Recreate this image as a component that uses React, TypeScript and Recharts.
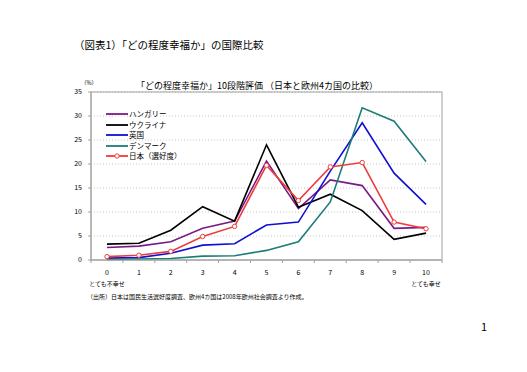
import * as R from "recharts"
import { CartesianGrid, Legend, Line, LineChart, XAxis, YAxis } from "recharts"

const categories = ["0", "1", "2", "3", "4", "5", "6", "7", "8", "9", "10"]
const hungary = [2.6, 2.9, 3.8, 6.6, 8.1, 20.6, 10.7, 16.7, 15.5, 6.6, 6.8]
const ukraine = [3.3, 3.5, 6.2, 11.1, 8.1, 24.0, 11.0, 13.7, 10.3, 4.3, 5.6]
const uk = [0.4, 0.5, 1.4, 3.1, 3.4, 7.3, 7.9, 18.5, 28.6, 18.1, 11.6]
const denmark = [0.1, 0.2, 0.3, 0.8, 0.9, 2.0, 3.8, 12.1, 31.7, 28.9, 20.5]
const japan = [0.7, 1.0, 1.8, 4.9, 7.0, 19.7, 12.4, 19.4, 20.3, 7.9, 6.5]
const yTicks = [0, 5, 10, 15, 20, 25, 30, 35]
const endLabels: Record<string, string> = { "0": "とても不幸せ", "10": "とても幸せ" }
const legendOrder = ["hungary", "ukraine", "uk", "denmark", "japan"]

const data = categories.map((c, i) => ({
  name: c,
  hungary: hungary[i],
  ukraine: ukraine[i],
  uk: uk[i],
  denmark: denmark[i],
  japan: japan[i],
}))

const font = "'Noto Sans CJK JP', 'Noto Sans', sans-serif"
const frame = "#a0a0a0"

const usePlotBox: () => any = (R as any).usePlotArea ?? (R as any).useOffset ?? (() => null)

function PlotFrame() {
  const box = usePlotBox()
  if (!box) return null
  const x = box.x ?? box.left
  const y = box.y ?? box.top
  return <rect x={x} y={y} width={box.width} height={box.height} fill="none" stroke={frame} strokeWidth={1} />
}

function XTick(props: any) {
  const { x, y, payload, index } = props
  const label = endLabels[payload.value]
  return (
    <g>
      <line x1={x - 16} y1={y} x2={x - 16} y2={y + 3} stroke={frame} />
      {index === categories.length - 1 && <line x1={x + 16} y1={y} x2={x + 16} y2={y + 3} stroke={frame} />}
      <text x={x} y={y + 15} textAnchor="middle" fontSize={7} fill="#000">
        {payload.value}
      </text>
      {label && (
        <text x={x} y={y + 26} textAnchor="middle" fontSize={6} fill="#000">
          {label}
        </text>
      )}
    </g>
  )
}

function LegendBox(props: any) {
  const items = [...props.payload].sort(
    (a: any, b: any) => legendOrder.indexOf(a.dataKey) - legendOrder.indexOf(b.dataKey)
  )
  return (
    <div style={{ fontFamily: font, fontSize: 7.5, lineHeight: "10px" }}>
      {items.map((p: any) => (
        <div key={p.value} style={{ display: "flex", alignItems: "center", height: 10.5 }}>
          <svg width={24} height={10}>
            <line x1={1} y1={5} x2={23} y2={5} stroke={p.color} strokeWidth={1.8} />
            {p.dataKey === "japan" && <circle cx={12} cy={5} r={2.2} fill="#fff" stroke={p.color} strokeWidth={1} />}
          </svg>
          <span>{p.value}</span>
        </div>
      ))}
    </div>
  )
}

export default function App() {
  return (
    <div style={{ position: "absolute", left: 0, top: 0, width: 527, height: 372, background: "#fff", fontFamily: font }}>
      <div style={{ position: "absolute", left: 74, top: 37, fontSize: 10.5, whiteSpace: "nowrap" }}>
        （図表1）「どの程度幸福か」の国際比較
      </div>
      <div style={{ position: "absolute", left: 136, top: 79, fontSize: 9, whiteSpace: "nowrap" }}>
        「どの程度幸福か」10段階評価 （日本と欧州4カ国の比較）
      </div>
      <div style={{ position: "absolute", left: 81, top: 79, fontSize: 5.5 }}>（%）</div>
      <div style={{ position: "absolute", left: 87, top: 292, fontSize: 6, whiteSpace: "nowrap" }}>
        （出所）日本は国民生活選好度調査、欧州4カ国は2008年欧州社会調査より作成。
      </div>
      <div style={{ position: "absolute", left: 481, top: 318, fontSize: 11 }}>1</div>
      <div style={{ position: "absolute", left: 0, top: 0 }}>
        <LineChart width={527} height={372} data={data} margin={{ top: 92, right: 85, bottom: 92, left: 61 }}>
          <CartesianGrid vertical={false} stroke="#c8c8c8" strokeDasharray="1 2" />
          <PlotFrame />
          <XAxis
            dataKey="name"
            height={20}
            padding={{ left: 16, right: 16 }}
            stroke={frame}
            tickLine={false}
            tickSize={0}
            tickMargin={0}
            interval={0}
            tick={<XTick />}
          />
          <YAxis
            domain={[0, 35]}
            ticks={yTicks}
            width={30}
            stroke={frame}
            tickSize={3}
            tickMargin={6}
            tick={{ fontSize: 7, fill: "#000" }}
          />
          <Legend
            layout="vertical"
            align="center"
            verticalAlign="middle"
            width={90}
            wrapperStyle={{ top: 109, left: 105 }}
            content={<LegendBox />}
          />
          <Line dataKey="hungary" name="ハンガリー" stroke="#7b1a86" strokeWidth={1.6} dot={false} isAnimationActive={false} />
          <Line dataKey="ukraine" name="ウクライナ" stroke="#000000" strokeWidth={1.6} dot={false} isAnimationActive={false} />
          <Line dataKey="uk" name="英国" stroke="#1010d0" strokeWidth={1.6} dot={false} isAnimationActive={false} />
          <Line dataKey="denmark" name="デンマーク" stroke="#1b7d76" strokeWidth={1.6} dot={false} isAnimationActive={false} />
          <Line
            dataKey="japan"
            name="日本（選好度）"
            stroke="#ee3c3c"
            strokeWidth={1.6}
            dot={{ r: 2.2, fill: "#fff", stroke: "#ee3c3c", strokeWidth: 1 }}
            isAnimationActive={false}
          />
        </LineChart>
      </div>
    </div>
  )
}
